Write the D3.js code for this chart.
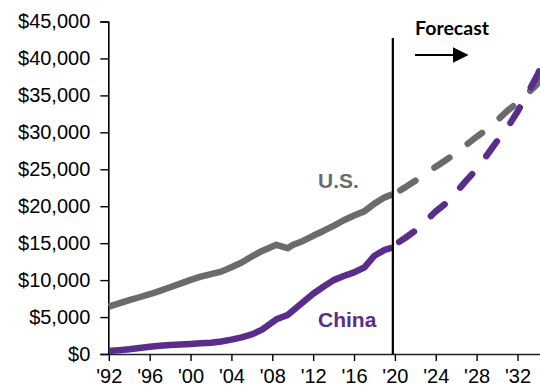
<!DOCTYPE html>
<html>
<head>
<meta charset="utf-8">
<script src="https://cdn.jsdelivr.net/npm/d3@7"></script>
<style>
  html, body { margin: 0; padding: 0; background: #fff; }
  svg { display: block; }
</style>
</head>
<body>
<svg id="chart" width="540" height="388"></svg>
<script>
// ---- data (US$ billions, nominal GDP) ----
const actualYears = [1992, 1993, 1994, 1995, 1996, 1997, 1998, 1999, 2000, 2001, 2002, 2003, 2004, 2005, 2006, 2007, 2008.4, 2009.5, 2010, 2011, 2012, 2013, 2014, 2015, 2016, 2017, 2018, 2019, 2019.75];
const usActual    = [6400, 6850, 7280, 7680, 8090, 8550, 9040, 9530, 10030, 10470, 10800, 11150, 11750, 12380, 13200, 13950, 14770, 14320, 14750, 15300, 16000, 16650, 17350, 18100, 18750, 19300, 20350, 21200, 21600];
const chinaActual = [400, 520, 630, 800, 990, 1110, 1220, 1290, 1360, 1440, 1530, 1700, 1950, 2250, 2650, 3300, 4700, 5280, 5850, 7000, 8150, 9100, 10000, 10550, 11050, 11700, 13300, 14100, 14400];

const forecastYears = [2019.75, 2020, 2021, 2022, 2023, 2024, 2025, 2026, 2027, 2028, 2029, 2030, 2031, 2032, 2033, 2034, 2035];
const usForecast    = [21600, 21700, 22550, 23450, 24400, 25350, 26250, 27200, 28330, 29400, 30400, 31600, 32900, 34000, 35300, 36600, 37900];
const chinaForecast = [14400, 14800, 15700, 16700, 18000, 19300, 20400, 21900, 23500, 25000, 26900, 28800, 30600, 32800, 35300, 37900, 41500];

const xTickYears = [1992, 1996, 2000, 2004, 2008, 2012, 2016, 2020, 2024, 2028, 2032];
const yTicks = [0, 5000, 10000, 15000, 20000, 25000, 30000, 35000, 40000, 45000];
const forecastStart = 2019.75;

const seriesNames = { us: "U.S.", china: "China" };
const colors = { us: "#6b6b6b", china: "#5a2d8c" };

// ---- layout ----
const svg = d3.select("#chart");
const x = d3.scaleLinear().domain([1992, 2034.2]).range([108.8, 540]);
const y = d3.scaleLinear().domain([0, 45000]).range([354, 21.5]);

const FONT = "'Liberation Sans', Arial, sans-serif";

// y axis
const yAxis = d3.axisLeft(y).tickValues(yTicks).tickSize(8).tickPadding(10)
  .tickFormat(d => "$" + d3.format(",")(d));
const gy = svg.append("g").attr("transform", `translate(${x(1992) - 0.5},0)`).call(yAxis);
gy.select(".domain").attr("stroke", "#000").attr("stroke-width", 1.6);
gy.selectAll(".tick line").attr("stroke", "#000").attr("stroke-width", 1.4);
gy.selectAll(".tick text").attr("fill", "#000").style("font-family", FONT).style("font-size", "20px");

// x axis
const xAxis = d3.axisBottom(x).tickValues(xTickYears).tickSize(7).tickSizeOuter(0).tickPadding(8)
  .tickFormat(d => "'" + String(d).slice(2));
const gx = svg.append("g").attr("transform", `translate(0,${y(0)})`).call(xAxis);
gx.select(".domain").attr("stroke", "#222").attr("stroke-width", 1.6);
gx.selectAll(".tick line").attr("stroke", "#000").attr("stroke-width", 1.4);
gx.selectAll(".tick text").attr("fill", "#000").style("font-family", FONT).style("font-size", "20px");

// lines
const line = d3.line().x(d => x(d[0])).y(d => y(d[1]));
const zip = (a, b) => a.map((v, i) => [v, b[i]]);

const plot = svg.append("g");
[["us", usActual, usForecast], ["china", chinaActual, chinaForecast]].forEach(([k, act, fc]) => {
  plot.append("path").datum(zip(actualYears, act))
    .attr("d", line).attr("fill", "none").attr("stroke", colors[k])
    .attr("stroke-width", 6.5).attr("stroke-linejoin", "round").attr("stroke-linecap", "butt");
  plot.append("path").datum(zip(forecastYears, fc))
    .attr("d", line).attr("fill", "none").attr("stroke", colors[k])
    .attr("stroke-width", 6.5).attr("stroke-linejoin", "round").attr("stroke-linecap", "round")
    .attr("stroke-dasharray", "18,23").attr("stroke-dashoffset", 32);
});

// forecast divider
svg.append("line")
  .attr("x1", x(forecastStart) + 0.5).attr("x2", x(forecastStart) + 0.5)
  .attr("y1", 38).attr("y2", y(0))
  .attr("stroke", "#000").attr("stroke-width", 2.2);

// forecast label + arrow
svg.append("text").attr("x", 415).attr("y", 35)
  .style("font-family", "Lato, 'Open Sans', sans-serif").style("font-weight", "bold").style("font-size", "19px")
  .attr("textLength", 74).attr("lengthAdjust", "spacingAndGlyphs")
  .attr("fill", "#000").text("Forecast");
svg.append("line").attr("x1", 415).attr("x2", 455).attr("y1", 55).attr("y2", 55)
  .attr("stroke", "#000").attr("stroke-width", 2);
svg.append("path").attr("d", "M453,47.3 L468.5,55 L453,62.7 Z").attr("fill", "#000");

// series labels
svg.append("text").attr("x", 318).attr("y", 187.5)
  .style("font-family", FONT).style("font-weight", "bold").style("font-size", "21px")
  .attr("fill", colors.us).text(seriesNames.us);
svg.append("text").attr("x", 318).attr("y", 327)
  .style("font-family", FONT).style("font-weight", "bold").style("font-size", "21px")
  .attr("fill", colors.china).text(seriesNames.china);
</script>
</body>
</html>
